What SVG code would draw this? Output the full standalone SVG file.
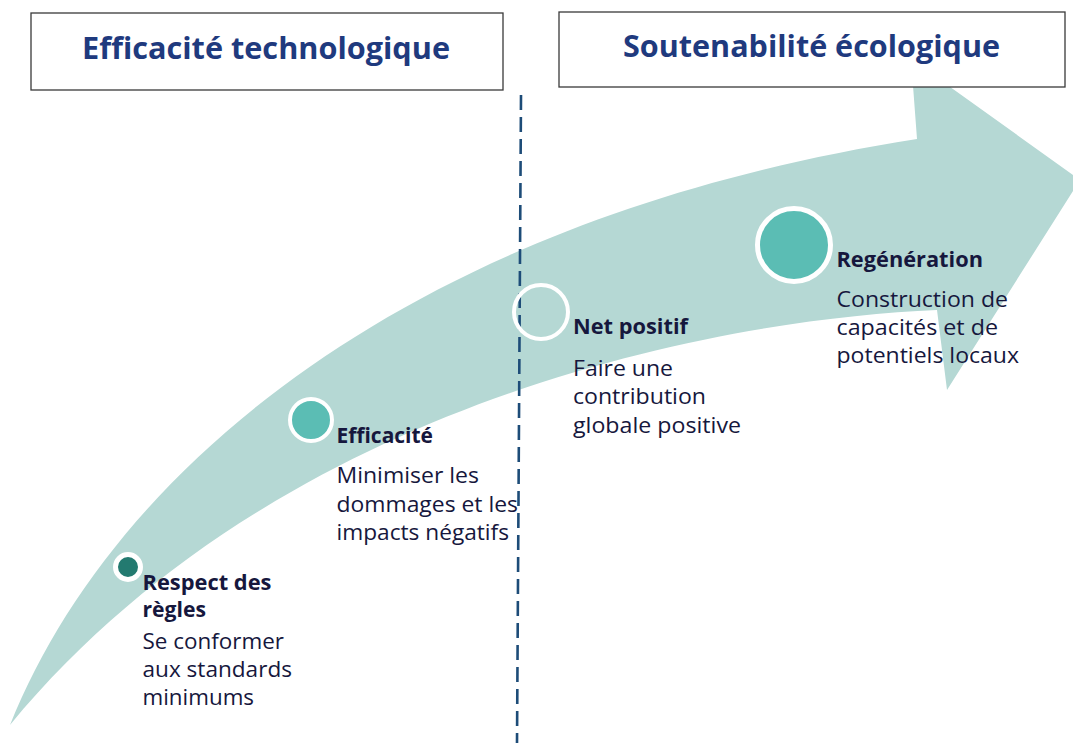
<svg xmlns="http://www.w3.org/2000/svg" width="1073" height="743" viewBox="0 0 1073 743">
<style>
.box{fill:#ffffff;stroke:#3a3a3a;stroke-width:1.3}
.title{font-family:"Open Sans","Liberation Sans",sans-serif;font-weight:700;font-size:30px;fill:#1f3a7e}
.lbl{font-family:"Open Sans","Liberation Sans",sans-serif;font-weight:700;font-size:21px;fill:#16173d}
.txt{font-family:"Open Sans","Liberation Sans",sans-serif;font-weight:400;font-size:22px;fill:#16173d}
.ring{stroke:#ffffff}
</style>
<rect width="1073" height="743" fill="#ffffff"/>
<g id="arrow">
<path d="M10,725 C110,475 400,220 917,139 L911,59 L1080,180 L947,390 L937,310 C700,320 270,410 10,725 Z" fill="#b5d8d4"/>
</g>
<g id="connectors">
<line x1="521" y1="95" x2="517" y2="743" stroke="#1d4c78" stroke-width="2.6" stroke-dasharray="15 7"/>
</g>
<g id="header-tech">
<rect class="box" x="31" y="13" width="472" height="77"/>
<text class="title" x="82" y="59" textLength="368" lengthAdjust="spacingAndGlyphs">Efficacité technologique</text>
</g>
<g id="header-eco">
<rect class="box" x="559" y="12" width="506" height="75"/>
<text class="title" x="623" y="57" textLength="377" lengthAdjust="spacingAndGlyphs">Soutenabilité écologique</text>
</g>
<g id="node-respect">
<circle class="ring" cx="128" cy="567" r="12.5" fill="#237a70" stroke-width="5"/>
<text class="lbl" x="142.5" y="590" textLength="129" lengthAdjust="spacingAndGlyphs">Respect des</text>
<text class="lbl" x="142.5" y="617" textLength="63.5" lengthAdjust="spacingAndGlyphs">règles</text>
<text class="txt" x="142.5" y="649" textLength="141.5" lengthAdjust="spacingAndGlyphs">Se conformer</text>
<text class="txt" x="142.5" y="677" textLength="149.5" lengthAdjust="spacingAndGlyphs">aux standards</text>
<text class="txt" x="142.5" y="705" textLength="111.5" lengthAdjust="spacingAndGlyphs">minimums</text>
</g>
<g id="node-efficacite">
<circle class="ring" cx="311" cy="420" r="21" fill="#5bbdb4" stroke-width="4"/>
<text class="lbl" x="336.5" y="443" textLength="96.5" lengthAdjust="spacingAndGlyphs">Efficacité</text>
<text class="txt" x="336.5" y="483" textLength="142.5" lengthAdjust="spacingAndGlyphs">Minimiser les</text>
<text class="txt" x="336.5" y="512" textLength="181.5" lengthAdjust="spacingAndGlyphs">dommages et les</text>
<text class="txt" x="336.5" y="540" textLength="172.5" lengthAdjust="spacingAndGlyphs">impacts négatifs</text>
</g>
<g id="node-netpositif">
<circle class="ring" cx="541" cy="312" r="27" fill="none" stroke-width="4"/>
<text class="lbl" x="573" y="334" textLength="115" lengthAdjust="spacingAndGlyphs">Net positif</text>
<text class="txt" x="573" y="375.5" textLength="100" lengthAdjust="spacingAndGlyphs">Faire une</text>
<text class="txt" x="573" y="404" textLength="133" lengthAdjust="spacingAndGlyphs">contribution</text>
<text class="txt" x="573" y="433" textLength="168" lengthAdjust="spacingAndGlyphs">globale positive</text>
</g>
<g id="node-regeneration">
<circle class="ring" cx="794" cy="245" r="36.5" fill="#5bbdb4" stroke-width="5"/>
<text class="lbl" x="836.5" y="266.5" textLength="146.5" lengthAdjust="spacingAndGlyphs">Regénération</text>
<text class="txt" x="836.5" y="306.5" textLength="171.5" lengthAdjust="spacingAndGlyphs">Construction de</text>
<text class="txt" x="836.5" y="335" textLength="161.5" lengthAdjust="spacingAndGlyphs">capacités et de</text>
<text class="txt" x="836.5" y="363" textLength="182.5" lengthAdjust="spacingAndGlyphs">potentiels locaux</text>
</g>
</svg>
